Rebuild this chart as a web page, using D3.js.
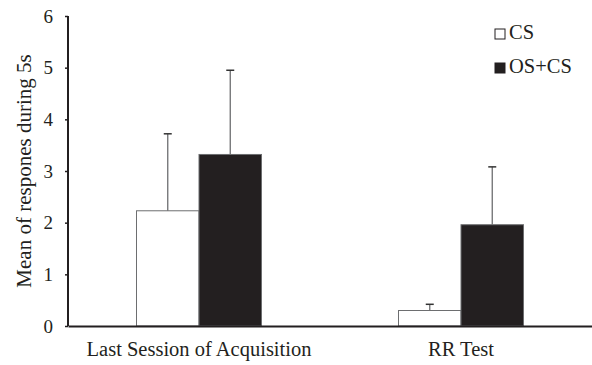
<!DOCTYPE html>
<html>
<head>
<meta charset="utf-8">
<script src="https://cdn.jsdelivr.net/npm/d3@7"></script>
<style>
  body { margin: 0; background: #fff; }
  text { font-family: "Liberation Serif", "Times New Roman", serif; fill: #231f20; }
</style>
</head>
<body>
<div id="chart"></div>
<script>
// Datos
const groups = ["Last Session of Acquisition", "RR Test"];
const seriesNames = ["CS", "OS+CS"];
const csMeans = [2.23, 0.30];
const csErrors = [1.49, 0.12];
const oscsMeans = [3.32, 1.96];
const oscsErrors = [1.63, 1.12];
const yTicks = [0, 1, 2, 3, 4, 5, 6];

const seriesFill = { "CS": "#ffffff", "OS+CS": "#231f20" };

const W = 592, H = 365;
const margin = { top: 16, right: 0, bottom: 39, left: 68 };
const width = W - margin.left - margin.right;
const height = H - margin.top - margin.bottom;

const svg = d3.select("#chart")
  .append("svg")
  .attr("width", W)
  .attr("height", H)
  .append("g")
  .attr("transform", `translate(${margin.left},${margin.top})`);

// Escalas
const x0 = d3.scaleBand().domain(groups).range([0, width]).paddingInner(0).paddingOuter(0);
const x1 = d3.scaleBand().domain(seriesNames).range([0, 125]);
const groupOffset = (x0.bandwidth() - 125) / 2;
const y = d3.scaleLinear().domain([0, 6]).range([height, 0]);

// Tabla de barras
const rows = [];
groups.forEach((g, i) => {
  rows.push({ group: g, series: "CS", value: csMeans[i], err: csErrors[i] });
  rows.push({ group: g, series: "OS+CS", value: oscsMeans[i], err: oscsErrors[i] });
});

// Barras
svg.selectAll(".bar")
  .data(rows)
  .enter()
  .append("rect")
  .attr("class", "bar")
  .attr("x", d => x0(d.group) + groupOffset + x1(d.series))
  .attr("width", x1.bandwidth())
  .attr("y", d => y(d.value))
  .attr("height", d => y(0) - y(d.value))
  .attr("fill", d => seriesFill[d.series])
  .attr("stroke", "#6d6e70")
  .attr("stroke-width", 1);

// Barras de error (solo hacia arriba)
const cx = d => x0(d.group) + groupOffset + x1(d.series) + x1.bandwidth() / 2;
svg.selectAll(".err")
  .data(rows)
  .enter()
  .append("line")
  .attr("x1", cx).attr("x2", cx)
  .attr("y1", d => y(d.value))
  .attr("y2", d => y(d.value + d.err))
  .attr("stroke", "#6d6e70")
  .attr("stroke-width", 1.3);

svg.selectAll(".cap")
  .data(rows)
  .enter()
  .append("line")
  .attr("x1", d => cx(d) - 4).attr("x2", d => cx(d) + 4)
  .attr("y1", d => y(d.value + d.err))
  .attr("y2", d => y(d.value + d.err))
  .attr("stroke", "#333")
  .attr("stroke-width", 1.5);

// Eje Y
const yAxis = svg.append("g")
  .call(d3.axisLeft(y).tickValues(yTicks).tickSize(3).tickPadding(12).tickFormat(d3.format("d")));
yAxis.select(".domain").attr("stroke", "#231f20").attr("stroke-width", 2).attr("d", `M0,0V${height}`);
yAxis.selectAll(".tick line").attr("stroke", "#231f20").attr("stroke-width", 1.5);
yAxis.selectAll("text").attr("font-size", "19px").attr("fill", "#231f20");

// Eje X
const xAxis = svg.append("g")
  .attr("transform", `translate(0,${height})`)
  .call(d3.axisBottom(x0).tickSize(0).tickPadding(15));
xAxis.select(".domain").attr("stroke", "#231f20").attr("stroke-width", 2.2);
xAxis.selectAll("text").attr("font-size", "20.5px").attr("fill", "#231f20");

// Título eje Y
svg.append("text")
  .attr("transform", "rotate(-90)")
  .attr("x", -(height / 2))
  .attr("y", 31 - margin.left)
  .attr("text-anchor", "middle")
  .attr("font-size", "21px")
  .text("Mean of respones during 5s");

// Leyenda
const legend = svg.selectAll(".legend")
  .data(seriesNames)
  .enter()
  .append("g")
  .attr("transform", (d, i) => `translate(${495 - margin.left},${29 - margin.top + i * 34})`);

legend.append("rect")
  .attr("width", 10).attr("height", 10)
  .attr("fill", d => seriesFill[d])
  .attr("stroke", "#231f20")
  .attr("stroke-width", 1);

legend.append("text")
  .attr("x", 14)
  .attr("y", 10)
  .attr("font-size", "20.5px")
  .text(d => d);
</script>
</body>
</html>
